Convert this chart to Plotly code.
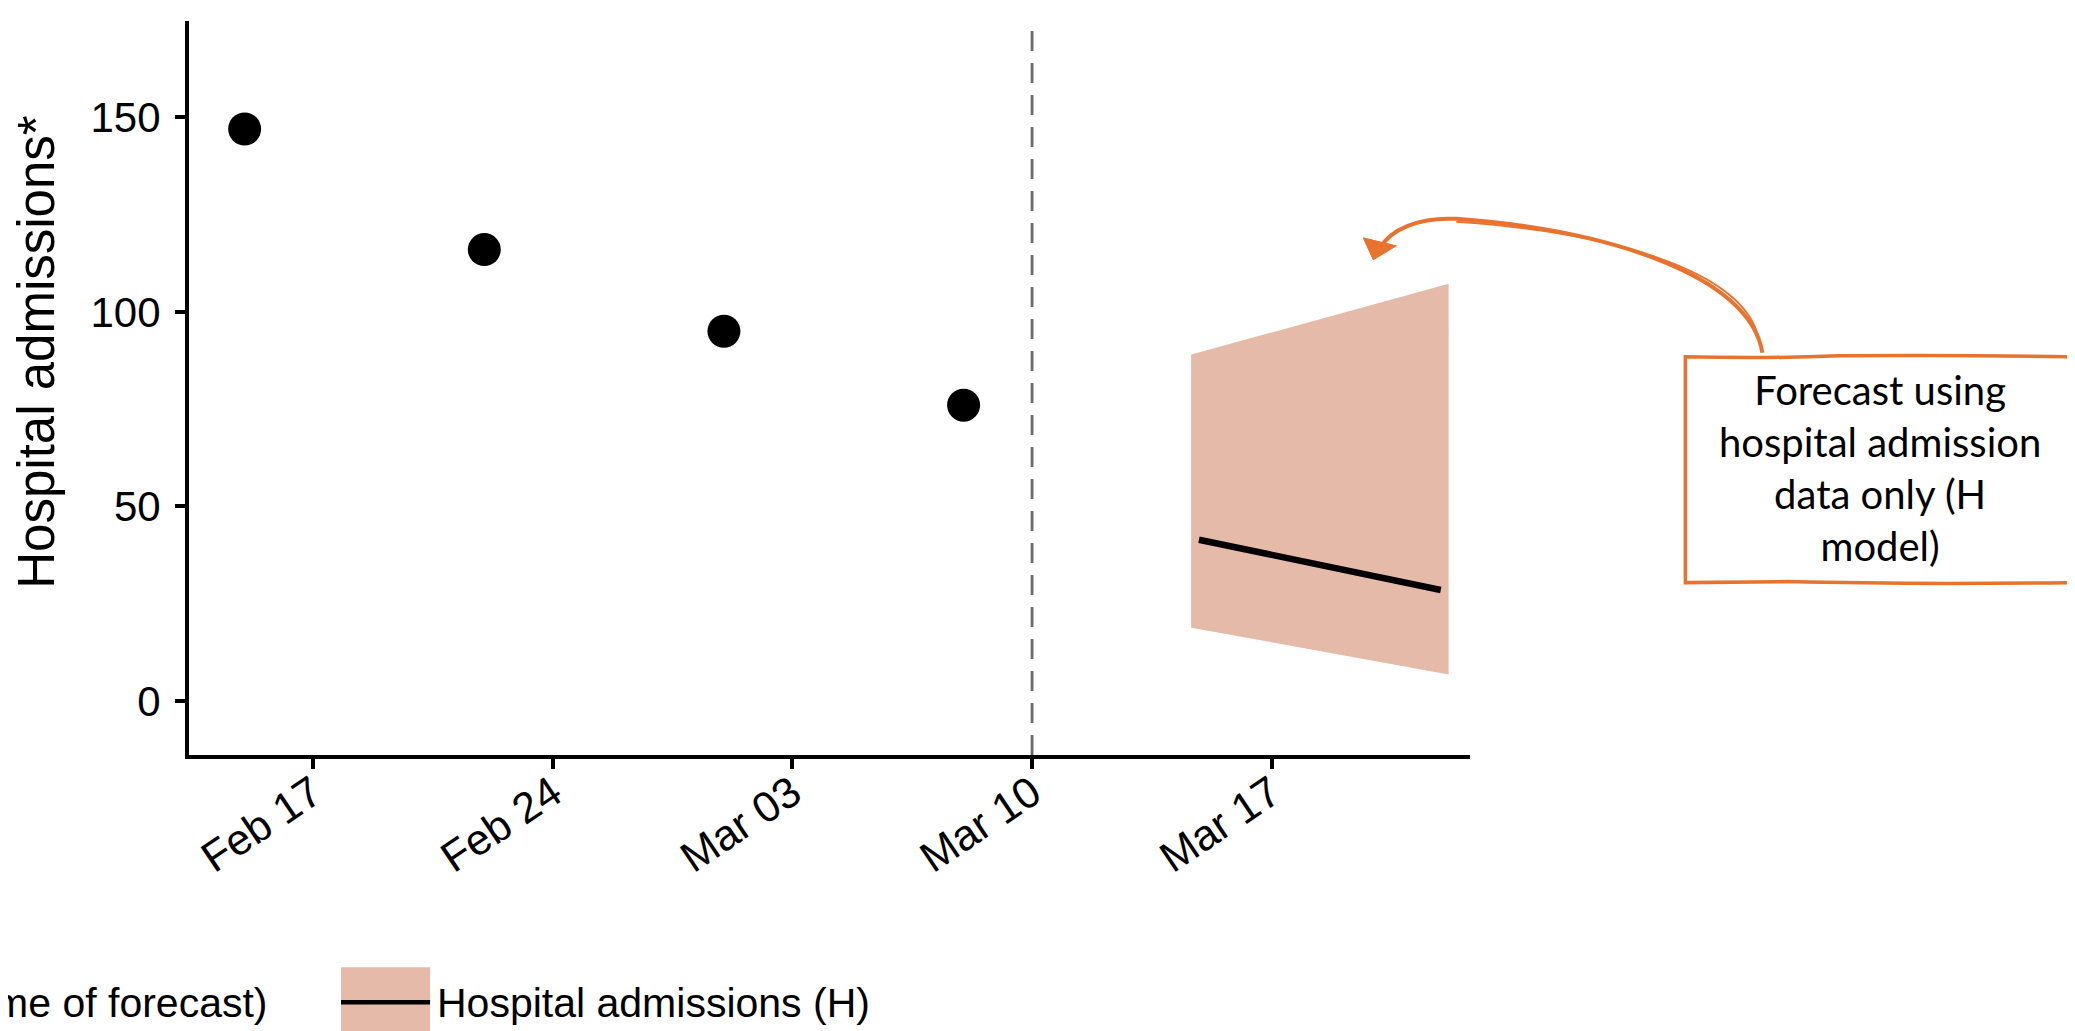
import plotly.graph_objects as go

# ---------------- data ----------------
obs_dates = ["2025-02-15", "2025-02-22", "2025-03-01", "2025-03-08"]
obs_values = [147, 116, 95, 76]

forecast_date = "2025-03-10"

band_dates = ["2025-03-14T15:30", "2025-03-22T04:00"]
fc_lower = [18.8, 6.8]
fc_upper = [89, 107.2]
line_dates = ["2025-03-14T21:00", "2025-03-21T22:30"]
fc_median = [41.4, 28.5]

tick_dates = ["2025-02-17", "2025-02-24", "2025-03-03", "2025-03-10", "2025-03-17"]
y_ticks = [0, 50, 100, 150]

series_name = "Hospital admissions (H)"
vline_name = "Dashed line (time of forecast)"
note_text = "Forecast using<br>hospital admission<br>data only (H<br>model)"

# ---------------- layout geometry (pixels) ----------------
W, H = 2075, 1031
L, R, T, B = 181, 1461.7, 13, 747.5   # plot area edges in px


def px(x):
    return (x - L) / (R - L)


def py(y):
    return (B - y) / (B - T)


RIBBON = "rgb(229,186,169)"
ORANGE = "#E8732F"
AXFONT = "Liberation Sans, Arial, Helvetica, sans-serif"

fig = go.Figure()

# ribbon
fig.add_trace(go.Scatter(
    x=band_dates + band_dates[::-1],
    y=fc_lower + fc_upper[::-1],
    fill="toself", fillcolor=RIBBON, mode="none",
    line=dict(width=0), showlegend=False, hoverinfo="skip",
))
# median line
fig.add_trace(go.Scatter(
    x=line_dates, y=fc_median, mode="lines",
    line=dict(color="black", width=6.5), name=series_name, showlegend=False,
))
# observed points
fig.add_trace(go.Scatter(
    x=obs_dates, y=obs_values, mode="markers",
    marker=dict(color="black", size=33), showlegend=False,
))

# forecast date dashed line
fig.add_shape(type="line", xref="x", yref="paper", x0=forecast_date, x1=forecast_date,
              y0=0, y1=1, line=dict(color="#6a6a6a", width=2.8, dash="20px,12px"), layer="below")


def P(x, y):
    return f"{px(x):.5f},{py(y):.5f}"


# annotation box (slightly hand-drawn look)
box_path = (f"M {P(1677,349)} Q {P(1760,351)} {P(1830,348)} Q {P(1950,347)} {P(2067,349)} "
            f"L {P(2067,575)} Q {P(1900,577)} {P(1780,574)} L {P(1677,575)} Z")
fig.add_shape(type="path", xref="paper", yref="paper", path=box_path,
              line=dict(color=ORANGE, width=3.5), fillcolor="white")
fig.add_annotation(xref="paper", yref="paper", x=px(1872), y=py(460),
                   text=note_text, showarrow=False, xanchor="center", yanchor="middle",
                   align="center", font=dict(family="Lato, Noto Sans, sans-serif", size=40, color="black"))

# curved arrow (double stroke, hand-drawn style)
arrow_path = (f"M {P(1754,345)} C {P(1742,268)} {P(1600,222)} {P(1448,211)} "
              f"C {P(1410,209)} {P(1382,222)} {P(1372,240)}")
fig.add_shape(type="path", xref="paper", yref="paper", path=arrow_path,
              line=dict(color=ORANGE, width=4))
arrow_path2 = f"M {P(1750,330)} C {P(1735,262)} {P(1600,224)} {P(1448,214)}"
fig.add_shape(type="path", xref="paper", yref="paper", path=arrow_path2,
              line=dict(color=ORANGE, width=2))
head_path = f"M {P(1365,252)} L {P(1355,230)} L {P(1388,238)} Z"
fig.add_shape(type="path", xref="paper", yref="paper", path=head_path,
              line=dict(color=ORANGE, width=1), fillcolor=ORANGE)

# y-axis title
fig.add_annotation(xref="paper", yref="paper", x=px(29), y=py(344),
                   text="Hospital admissions*", textangle=-90, showarrow=False,
                   xanchor="center", yanchor="middle",
                   font=dict(family=AXFONT, size=51, color="black"))

# manual legend
fig.add_shape(type="rect", xref="paper", yref="paper",
              x0=px(333), x1=px(422), y0=py(1028), y1=py(960),
              line=dict(width=0), fillcolor=RIBBON)
fig.add_shape(type="line", xref="paper", yref="paper",
              x0=px(333), x1=px(422), y0=py(995), y1=py(995),
              line=dict(color="black", width=4.5))
fig.add_annotation(xref="paper", yref="paper", x=px(427), y=py(996),
                   text=series_name, showarrow=False, xanchor="left", yanchor="middle",
                   font=dict(family=AXFONT, size=41, color="black"))
fig.add_annotation(xref="paper", yref="paper", x=px(262), y=py(996),
                   text=vline_name, showarrow=False,
                   xanchor="right", yanchor="middle",
                   font=dict(family=AXFONT, size=41, color="black"))

fig.update_layout(
    width=W, height=H,
    margin=dict(l=L, r=W - R, t=T, b=H - B),
    plot_bgcolor="white", paper_bgcolor="white",
    showlegend=False,
)
fig.update_xaxes(
    range=["2025-02-13T09:00", "2025-03-22T19:00"],
    tickvals=tick_dates, tickformat="%b %d", tickangle=-34,
    showline=True, linecolor="black", linewidth=4,
    ticks="outside", ticklen=10, tickwidth=4, tickcolor="black",
    showgrid=False, zeroline=False, ticklabelstandoff=-18,
    tickfont=dict(family=AXFONT, size=43, color="black"),
)
fig.update_yaxes(
    range=[-13.92, 174.75], tickvals=y_ticks,
    showline=True, linecolor="black", linewidth=4,
    ticks="outside", ticklen=10, tickwidth=4, tickcolor="black",
    showgrid=False, zeroline=False, ticklabelstandoff=6,
    tickfont=dict(family=AXFONT, size=42, color="black"),
)

fig.write_html("out.html")
